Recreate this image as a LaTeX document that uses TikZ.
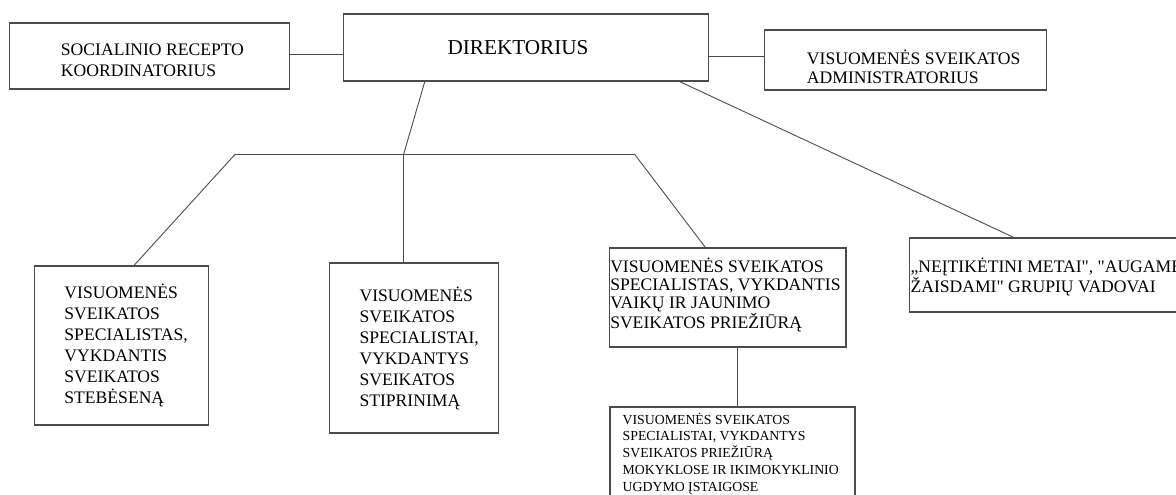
\documentclass[tikz,border=0pt]{standalone}
\usepackage{fontspec}
\setmainfont{Liberation Serif}[Ligatures=TeXOff]
\usetikzlibrary{positioning}
\tikzset{
  box/.style={draw=black!70, line width=1.1pt, inner sep=0pt},
  conn/.style={draw=black!70, line width=0.9pt},
  txt/.style={inner sep=0pt, align=left, text=black},
}
\begin{document}
\begin{tikzpicture}[x=1pt,y=-1pt]
	\useasboundingbox (0,0) rectangle (1176,495);
	\clip (0,0) rectangle (1176,495);
	\node[box, minimum width=280pt, minimum height=66pt] (soc) at (149.3,56) {};
	\node[box, minimum width=365pt, minimum height=67pt] (dir) at (525.9,47.5) {};
	\node[box, minimum width=282.4pt, minimum height=60pt] (adm) at (905.5,60) {};
	\node[box, minimum width=173.8pt, minimum height=159pt] (steb) at (121.7,345.5) {};
	\node[box, minimum width=168.8pt, minimum height=170pt] (stipr) at (414.3,348) {};
	\node[box, minimum width=236.4pt, minimum height=99pt] (vaik) at (727.8,297.5) {};
	\node[box, minimum width=330pt, minimum height=74pt] (grup) at (1074.9,275) {};
	\node[box, minimum width=245pt, minimum height=100pt] (mok) at (732.5,457) {};
	\node[txt, font=\fontsize{17.6}{21}\selectfont, right=52pt of soc.west, yshift=-4.5pt] (soctxt) {SOCIALINIO RECEPTO\\KOORDINATORIUS};
	\node[txt, font=\fontsize{21.2}{24}\selectfont, right=104.5pt of dir.west] (dirtxt) {DIREKTORIUS};
	\node[txt, font=\fontsize{17.6}{19}\selectfont, right=43pt of adm.west, yshift=-6.5pt] (admtxt) {VISUOMENĖS SVEIKATOS\\ADMINISTRATORIUS};
	\node[txt, font=\fontsize{17.6}{21}\selectfont, right=30pt of steb.west] (stebtxt) {VISUOMENĖS\\SVEIKATOS\\SPECIALISTAS,\\VYKDANTIS\\SVEIKATOS\\STEBĖSENĄ};
	\node[txt, font=\fontsize{17.6}{21}\selectfont, right=30pt of stipr.west] (stiprtxt) {VISUOMENĖS\\SVEIKATOS\\SPECIALISTAI,\\VYKDANTYS\\SVEIKATOS\\STIPRINIMĄ};
	\node[txt, font=\fontsize{17.6}{18}\selectfont, right=1pt of vaik.west, yshift=2.5pt] (vaiktxt) {VISUOMENĖS SVEIKATOS\\SPECIALISTAS, VYKDANTIS\\VAIKŲ IR JAUNIMO\\SVEIKATOS PRIEŽIŪRĄ};
	\node[txt, font=\fontsize{17.6}{20}\selectfont, right=1pt of grup.west, yshift=-2pt] (gruptxt) {„NEĮTIKĖTINI METAI", "AUGAME\\ŽAISDAMI" GRUPIŲ VADOVAI};
	\node[txt, font=\fontsize{13.8}{16.8}\selectfont, anchor=north west] (moktxt) at ([xshift=13pt,yshift=-6pt]mok.north west) {VISUOMENĖS SVEIKATOS\\SPECIALISTAI, VYKDANTYS\\SVEIKATOS PRIEŽIŪRĄ\\MOKYKLOSE IR IKIMOKYKLINIO\\UGDYMO ĮSTAIGOSE};
	\coordinate (hub) at (403.7,154);
	\coordinate (barL) at (235.4,154);
	\coordinate (barR) at (634.4,154);
	\draw[conn] ([yshift=2pt]soc.east) -- ([yshift=2pt]soc.east -| dir.west);
	\draw[conn] ([yshift=4pt]adm.west) -- ([yshift=4pt]adm.west -| dir.east);
	\draw[conn] ([xshift=-101.1pt]dir.south) -- (hub);
	\draw[conn] (barL) -- (barR);
	\draw[conn] (barL) -- ([xshift=12.3pt]steb.north);
	\draw[conn] (hub) -- (hub |- stipr.north);
	\draw[conn] (barR) -- ([xshift=-22.4pt]vaik.north);
	\draw[conn] ([xshift=153.7pt]dir.south) -- ([xshift=104.5pt]grup.north west);
	\draw[conn] ([xshift=9.9pt]vaik.south) -- ([xshift=9.9pt]vaik.south |- mok.north);
\end{tikzpicture}
\end{document}
